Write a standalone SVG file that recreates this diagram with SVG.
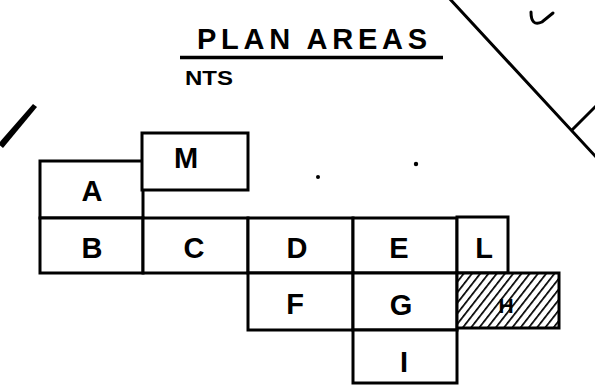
<svg xmlns="http://www.w3.org/2000/svg" width="595" height="389" viewBox="0 0 595 389">
  <style>
    .box { fill: #fff; stroke: #000; stroke-width: 3; stroke-linejoin: miter; }
    .lbl { font-family: "Liberation Sans", Arial, sans-serif; font-weight: bold; font-size: 29px; fill: #000; text-anchor: middle; }
    .ln { stroke: #000; stroke-width: 3; fill: none; stroke-linecap: round; }
  </style>
  <defs>
    <pattern id="hatch" patternUnits="userSpaceOnUse" width="6.5" height="6.5" patternTransform="rotate(38)">
      <rect width="6.5" height="6.5" fill="#fff"/>
      <line x1="0" y1="0" x2="0" y2="6.5" stroke="#000" stroke-width="3.4"/>
    </pattern>
  </defs>
  <rect width="595" height="389" fill="#fff"/>

  <g id="title">
    <text x="197" y="49" font-family="Liberation Sans, Arial, sans-serif" font-weight="bold" font-size="29" textLength="230" lengthAdjust="spacing">PLAN AREAS</text>
    <line x1="180" y1="57.5" x2="443" y2="57.5" stroke="#000" stroke-width="3.5"/>
    <text x="185" y="85" font-family="Liberation Sans, Arial, sans-serif" font-weight="bold" font-size="20" textLength="48" lengthAdjust="spacingAndGlyphs">NTS</text>
  </g>

  <g id="connectors">
    <line class="ln" x1="449" y1="-2" x2="597" y2="158"/>
    <line class="ln" x1="572" y1="130" x2="597" y2="105"/>
    <path class="ln" d="M531,12 Q531,27 542,22 L553,13" stroke-width="3.5"/>
    <path d="M33,104 L37,107 L3,148 L-2,144 Z" fill="#000"/>
    <circle cx="318" cy="177" r="2" fill="#000"/>
    <circle cx="416" cy="164" r="2.2" fill="#000"/>
  </g>

  <g id="node-A"><rect class="box" x="40" y="161" width="103" height="57"/><text class="lbl" x="92" y="201">A</text></g>
  <g id="node-M"><rect class="box" x="142" y="133" width="106" height="57"/><text class="lbl" x="186" y="168">M</text></g>
  <g id="node-B"><rect class="box" x="40" y="218" width="103" height="55"/><text class="lbl" x="92" y="258">B</text></g>
  <g id="node-C"><rect class="box" x="143" y="218" width="105" height="55"/><text class="lbl" x="194" y="258">C</text></g>
  <g id="node-D"><rect class="box" x="248" y="218" width="105" height="55"/><text class="lbl" x="297" y="258">D</text></g>
  <g id="node-E"><rect class="box" x="353" y="218" width="104" height="55"/><text class="lbl" x="399" y="258">E</text></g>
  <g id="node-L"><rect class="box" x="457" y="217" width="51" height="56"/><text class="lbl" x="484" y="258">L</text></g>
  <g id="node-F"><rect class="box" x="248" y="273" width="105" height="57"/><text class="lbl" x="295" y="314">F</text></g>
  <g id="node-G"><rect class="box" x="353" y="273" width="104" height="57"/><text class="lbl" x="401" y="315">G</text></g>
  <g id="node-H"><rect x="457" y="273" width="102" height="55" fill="url(#hatch)" stroke="#000" stroke-width="3"/><text x="506" y="313" font-family="Liberation Sans, Arial, sans-serif" font-weight="bold" font-size="21" text-anchor="middle" fill="#000">H</text></g>
  <g id="node-I"><rect class="box" x="353" y="330" width="104" height="53"/><text class="lbl" x="404" y="372">I</text></g>
</svg>
